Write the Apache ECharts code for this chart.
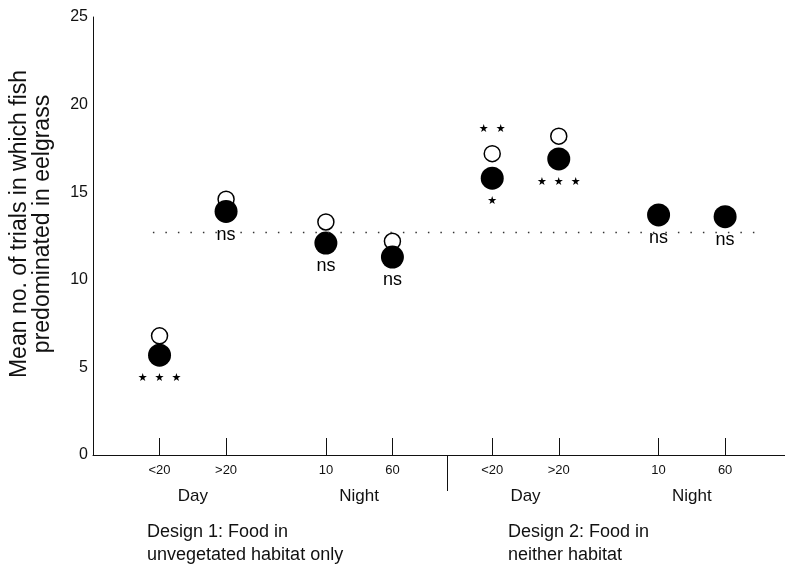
<!DOCTYPE html>
<html>
<head>
<meta charset="utf-8">
<script src="https://cdn.jsdelivr.net/npm/echarts@6/dist/echarts.min.js"></script>
<style>html,body{margin:0;padding:0;background:#fff}#c{width:785px;height:574px}</style>
</head>
<body>
<div id="c"></div>
<script>
// ---- data ----
var categories = ['<20', '>20', '10', '60', '<20', '>20', '10', '60'];
var categoryPos = [2, 4, 7, 9, 12, 14, 17, 19];
var groupLabels = ['Day', 'Night', 'Day', 'Night'];
var groupPos = [3, 8, 13, 18];
var designLabels = ['Design 1: Food in\nunvegetated habitat only', 'Design 2: Food in\nneither habitat'];
var yAxisTitle = 'Mean no. of trials in which fish\npredominated in eelgrass';
var filledValues = [5.7, 13.9, 12.1, 11.3, 15.8, 16.9, 13.7, 13.6];
var openValues = [6.8, 14.6, 13.3, 12.2, 17.2, 18.2, null, null];
var belowMarks = ['***', 'ns', 'ns', 'ns', '*', '***', 'ns', 'ns'];
var aboveMarks = ['', '', '', '', '**', '', '', ''];
var referenceLevel = 12.7;
var separatorPos = 10.65;

// ---- build ----
var FONT = 'Liberation Sans';
function starText(s) { return s.split('').map(function () { return '\u2605'; }).join('  '); }
function markLabel(s, pos) {
  if (!s) return { show: false };
  var isStar = s.indexOf('*') >= 0;
  return {
    show: true, position: pos,
    formatter: isStar ? starText(s) : s,
    fontFamily: isStar ? 'DejaVu Sans' : FONT,
    fontSize: isStar ? 11 : 18,
    distance: isStar ? (pos === 'top' ? 10 : 6) : 3,
    color: '#000'
  };
}
var filledData = categoryPos.map(function (x, i) {
  return { value: [x, filledValues[i]], label: markLabel(belowMarks[i], 'bottom') };
});
var openData = [];
categoryPos.forEach(function (x, i) {
  if (openValues[i] != null) openData.push({ value: [x, openValues[i]], label: markLabel(aboveMarks[i], 'top') });
});
var labelMap = {};
categoryPos.forEach(function (p, i) { labelMap[p] = categories[i]; });
var groupMap = {};
groupPos.forEach(function (p, i) { groupMap[p] = groupLabels[i]; });

var chart = echarts.init(document.getElementById('c'), null, { renderer: 'canvas' });
chart.setOption({
  animation: false,
  backgroundColor: '#fff',
  grid: { left: 93, right: 0, top: 17, bottom: 119, containLabel: false },
  xAxis: [{
    type: 'value', min: 0, max: 20.8,
    axisLine: { show: true, lineStyle: { color: '#111', width: 1 } },
    splitLine: { show: false },
    axisTick: { show: true, inside: true, length: 17, customValues: categoryPos, lineStyle: { color: '#111', width: 1 } },
    axisLabel: { show: true, customValues: categoryPos, formatter: function (v) { return labelMap[v] || ''; },
      fontFamily: FONT, fontSize: 13, color: '#111', margin: 9 }
  }, {
    type: 'value', min: 0, max: 20.8, position: 'bottom',
    axisLine: { show: false }, splitLine: { show: false },
    axisTick: { show: true, inside: false, length: 36, customValues: [separatorPos], lineStyle: { color: '#111', width: 1 } },
    axisLabel: { show: true, customValues: groupPos, formatter: function (v) { return groupMap[v] || ''; },
      fontFamily: FONT, fontSize: 17, color: '#111', margin: 33 }
  }],
  yAxis: {
    type: 'value', min: 0, max: 25, interval: 5,
    axisLine: { show: true, lineStyle: { color: '#111', width: 1 } },
    axisTick: { show: false },
    splitLine: { show: false },
    axisLabel: { fontFamily: FONT, fontSize: 16, color: '#111', margin: 5 }
  },
  series: [{
    type: 'line', xAxisIndex: 0,
    data: [[1.8, referenceLevel], [20.1, referenceLevel]],
    symbol: 'none', silent: true,
    lineStyle: { color: '#333', width: 1.5, type: [1.5, 11] }
  }, {
    type: 'scatter', xAxisIndex: 0,
    data: openData, symbol: 'circle', symbolSize: 16,
    itemStyle: { color: '#fff', borderColor: '#000', borderWidth: 1.5, opacity: 1 }
  }, {
    type: 'scatter', xAxisIndex: 0,
    data: filledData, symbol: 'circle', symbolSize: 23,
    itemStyle: { color: '#000', opacity: 1 }
  }],
  graphic: [{
    type: 'text', x: 31, y: 224, rotation: Math.PI / 2,
    style: { text: yAxisTitle, font: '23px "Liberation Sans"', fill: '#111', lineHeight: 23,
      textAlign: 'center', textVerticalAlign: 'middle' }
  }, {
    type: 'text', left: 147, top: 521,
    style: { text: designLabels[0], font: '18px "Liberation Sans"', fill: '#111', lineHeight: 23 }
  }, {
    type: 'text', left: 508, top: 521,
    style: { text: designLabels[1], font: '18px "Liberation Sans"', fill: '#111', lineHeight: 23 }
  }]
});
</script>
</body>
</html>
